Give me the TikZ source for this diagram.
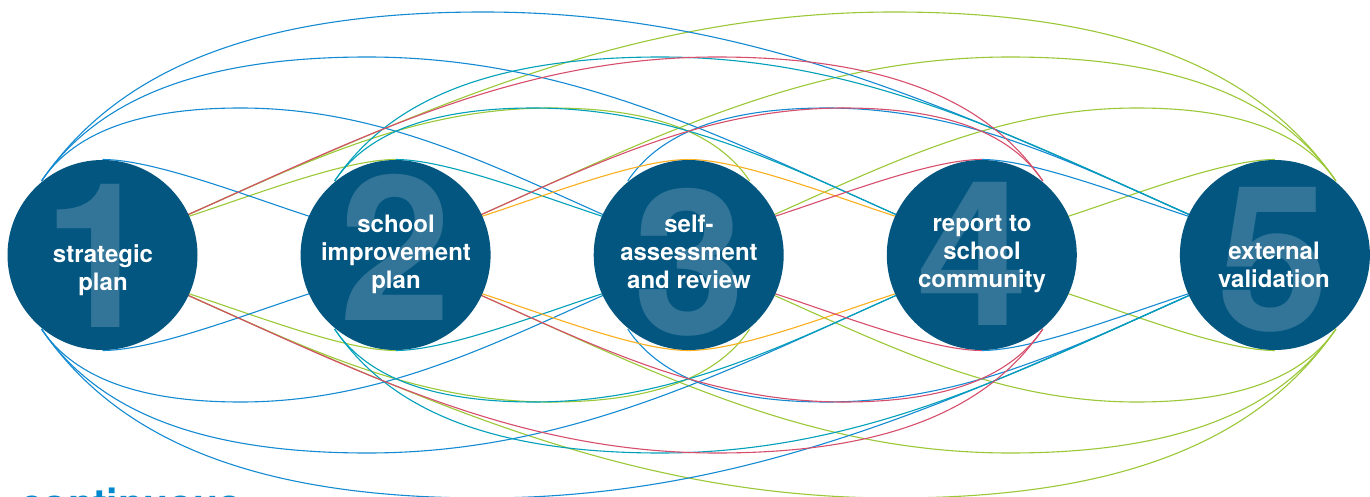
\documentclass[tikz,border=0pt]{standalone}
\usepackage{fontspec}
\setmainfont{TeX Gyre Heros}
\usetikzlibrary{calc,backgrounds}
\definecolor{circblue}{RGB}{2,86,128}
\definecolor{numblue}{RGB}{50,117,153}
\definecolor{lblue}{RGB}{20,138,210}
\definecolor{lteal}{RGB}{0,160,185}
\definecolor{lgreen}{RGB}{155,200,55}
\definecolor{lred}{RGB}{214,78,108}
\definecolor{lorange}{RGB}{250,175,30}
\definecolor{ctext}{RGB}{0,136,206}
\tikzset{
  circ/.style={circle, fill=circblue, minimum size=190pt, inner sep=0pt},
  num/.style={anchor=base, text=numblue, font=\fontsize{202}{202}\selectfont\bfseries, inner sep=0pt},
  lab/.style={anchor=base, text=white, font=\fontsize{24}{28}\selectfont\bfseries, inner sep=0pt},
  link/.style={line width=1.1pt},
}
% span 1
\newcommand\arcA[5]{\draw[link,#5]
  ($(#1.center)+(0,{#4*(-95.5)})$)
  .. controls ($(#1.center)+({#3*50},{#4*(-95.5)})$) and ($(#2.center)+({#3*(-154.25)},{#4*(-61)})$)
  .. ($(#2.center)+({#3*(-87.25)},{#4*(-39)})$) -- ++({#3*12},{#4*4});}
% span 2
\newcommand\arcB[5]{\draw[link,#5]
  ($(#1.center)+({#3*(-61)},{#4*(-74)})$)
  .. controls ($(#1.center)+({#3*(-31.6)},{#4*(-118.1)})$) and ($(#1.center)+({#3*28},{#4*(-147)})$)
  .. ($(#1.center)+({#3*138},{#4*(-147)})$)
  .. controls ($(#1.center)+({#3*274},{#4*(-147)})$) and ($(#2.center)+({#3*(-203.5)},{#4*(-92.9)})$)
  .. ($(#2.center)+({#3*(-87)},{#4*(-41)})$) -- ++({#3*12},{#4*5});}
% span 3
\newcommand\arcC[5]{\draw[link,#5]
  ($(#1.center)+({#3*(-61)},{#4*(-74)})$)
  .. controls ($(#1.center)+({#3*(-11.3)},{#4*(-147)})$) and ($(#1.center)+({#3*81},{#4*(-198)})$)
  .. ($(#1.center)+({#3*265},{#4*(-198)})$)
  .. controls ($(#1.center)+({#3*465},{#4*(-198)})$) and ($(#2.center)+({#3*(-258.4)},{#4*(-117.3)})$)
  .. ($(#2.center)+({#3*(-87)},{#4*(-41)})$) -- ++({#3*12},{#4*5});}
% span 4
\newcommand\arcD[5]{\draw[link,#5]
  ($(#1.center)+({#3*(-61)},{#4*(-74)})$)
  .. controls ($(#1.center)+({#3*7},{#4*(-173)})$) and ($(#1.center)+({#3*131},{#4*(-243)})$)
  .. ($(#1.center)+({#3*381},{#4*(-243)})$)
  .. controls ($(#1.center)+({#3*648},{#4*(-243)})$) and ($(#2.center)+({#3*(-315.5)},{#4*(-142.75)})$)
  .. ($(#2.center)+({#3*(-87)},{#4*(-41)})$) -- ++({#3*12},{#4*5});}
% top and bottom copies
\newcommand\twoarcs[5]{#1{#2}{#3}{#4}{1}{#5}#1{#2}{#3}{#4}{-1}{#5}}
\begin{document}
\begin{tikzpicture}[x=1pt,y=-1pt]
\useasboundingbox (0,0) rectangle (1370,497);
% circles
\node[circ] (c1) at (102.5,255) {};
\node[circ] (c2) at (395.6,255) {};
\node[circ] (c3) at (688.7,255) {};
\node[circ] (c4) at (981.8,255) {};
\node[circ] (c5) at (1274.9,255) {};
% big numbers
\node[num] (n1) at (100,327) {1};
\node[num] (n2) at (396,320) {2};
\node[num] (n3) at (690,334) {3};
\node[num] (n4) at (973,325) {4};
\node[num] (n5) at (1274,330) {5};
% labels
\node[lab] (l1) at (103,290) {\begin{tabular}[b]{@{}c@{}}strategic\\plan\end{tabular}};
\node[lab] (l2) at (396,288) {\begin{tabular}[b]{@{}c@{}}school\\improvement\\plan\end{tabular}};
\node[lab] (l3) at (689,288) {\begin{tabular}[b]{@{}c@{}}self-\\assessment\\and review\end{tabular}};
\node[lab] (l4) at (982,287) {\begin{tabular}[b]{@{}c@{}}report to\\school\\community\end{tabular}};
\node[lab] (l5) at (1274,287) {\begin{tabular}[b]{@{}c@{}}external\\validation\end{tabular}};
% title, cut by the lower edge
\node[anchor=base west, text=ctext, font=\fontsize{41}{41}\selectfont\bfseries, inner sep=0pt] (cont) at (20,518) {continuous};
\begin{pgfonlayer}{background}
\fill[white] (0,0) rectangle (1370,497);
% green
\twoarcs\arcA{c2}{c1}{-1}{lgreen}
\twoarcs\arcB{c3}{c1}{-1}{lgreen}
\twoarcs\arcA{c5}{c4}{-1}{lgreen}
\twoarcs\arcB{c5}{c3}{-1}{lgreen}
\twoarcs\arcC{c5}{c2}{-1}{lgreen}
\twoarcs\arcD{c5}{c1}{-1}{lgreen}
% blue
\twoarcs\arcA{c1}{c2}{1}{lblue}
\twoarcs\arcB{c1}{c3}{1}{lblue}
\twoarcs\arcC{c1}{c4}{1}{lblue}
\twoarcs\arcD{c1}{c5}{1}{lblue}
\twoarcs\arcB{c3}{c5}{1}{lblue}
\twoarcs\arcA{c4}{c5}{1}{lblue}
% teal
\twoarcs\arcA{c2}{c3}{1}{lteal}
\twoarcs\arcB{c2}{c4}{1}{lteal}
\twoarcs\arcC{c2}{c5}{1}{lteal}
% orange
\twoarcs\arcA{c3}{c4}{1}{lorange}
\twoarcs\arcA{c3}{c2}{-1}{lorange}
% red
\twoarcs\arcA{c4}{c3}{-1}{lred}
\twoarcs\arcB{c4}{c2}{-1}{lred}
\twoarcs\arcC{c4}{c1}{-1}{lred}
\end{pgfonlayer}
\end{tikzpicture}
\end{document}
